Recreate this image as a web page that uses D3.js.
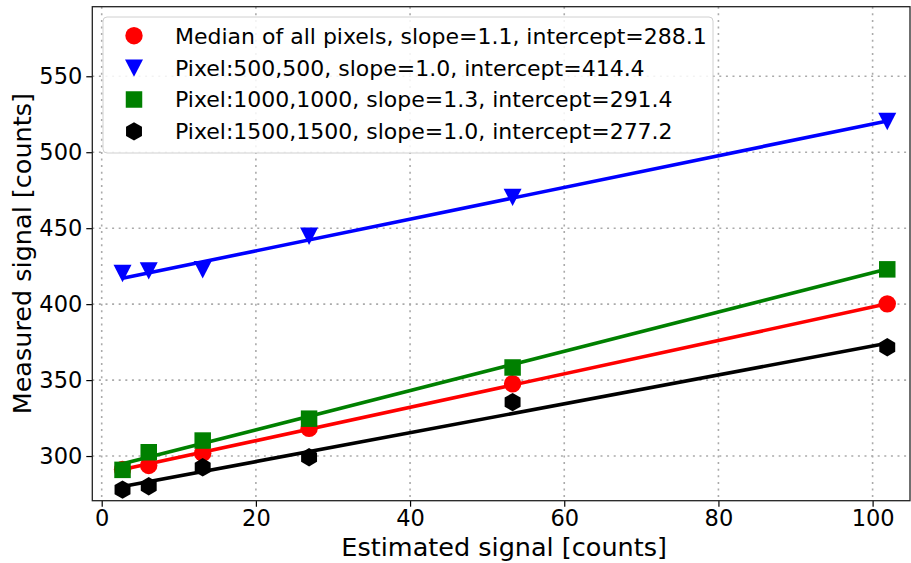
<!DOCTYPE html>
<html>
<head>
<meta charset="utf-8">
<script src="https://cdn.jsdelivr.net/npm/d3@7"></script>
<style>
  body { margin: 0; background: #fff; }
  text { font-family: "DejaVu Sans", sans-serif; fill: #000; }
  .tick line { stroke: #000; stroke-width: 1.2; }
  .tick text { font-size: 22.5px; }
  .domain { display: none; }
  .grid line { stroke: #aaa; stroke-width: 1.6; stroke-dasharray: 2 4.6; }
</style>
</head>
<body>
<div id="chart"></div>
<script>
// chart data
const estSignal = [2.7, 6.1, 13.1, 26.9, 53.3, 101.9];
const medianVals = [291.2, 293.8, 301.9, 318.2, 347.6, 400.2];
const px500Vals = [420.5, 422.2, 423.0, 445.0, 470.6, 520.6];
const px1000Vals = [290.9, 302.5, 310.2, 324.6, 358.3, 422.9];
const px1500Vals = [277.9, 280.1, 292.6, 299.2, 335.5, 371.6];

// fitted lines, value at first and last x
const medianFit = [291.1, 400.2];
const px500Fit = [417.0, 520.6];
const px1000Fit = [294.9, 423.2];
const px1500Fit = [279.9, 374.2];

const legendLabels = [
  'Median of all pixels, slope=1.1, intercept=288.1',
  'Pixel:500,500, slope=1.0, intercept=414.4',
  'Pixel:1000,1000, slope=1.3, intercept=291.4',
  'Pixel:1500,1500, slope=1.0, intercept=277.2'
];
const xTicks = [0, 20, 40, 60, 80, 100];
const yTicks = [300, 350, 400, 450, 500, 550];

const xLabel = 'Estimated signal [counts]';
const yLabel = 'Measured signal [counts]';

// static params
const width = 911, height = 563;
const margin = {top: 6.7, right: 1, bottom: 62.3, left: 92.3};
const innerW = width - margin.left - margin.right,
      innerH = height - margin.top - margin.bottom;

const series = [
  {vals: medianVals, fit: medianFit, color: 'red', shape: 'circle'},
  {vals: px500Vals, fit: px500Fit, color: 'blue', shape: 'triangle'},
  {vals: px1000Vals, fit: px1000Fit, color: 'green', shape: 'square'},
  {vals: px1500Vals, fit: px1500Fit, color: 'black', shape: 'hexagon'}
];
series.forEach((s, i) => s.label = legendLabels[i]);

// scales
const xScale = d3.scaleLinear().domain([-1.22, 104.85]).range([0, innerW]);
const yScale = d3.scaleLinear().domain([270.6, 595.8]).range([innerH, 0]);

const svg = d3.select('#chart').append('svg')
    .attr('width', width)
    .attr('height', height)
  .append('g')
    .attr('transform', `translate(${margin.left},${margin.top})`);

// grids
svg.append('g').attr('class', 'grid')
  .selectAll('line').data(xTicks).join('line')
    .attr('x1', d => xScale(d)).attr('x2', d => xScale(d))
    .attr('y1', 0).attr('y2', innerH);
svg.append('g').attr('class', 'grid')
  .selectAll('line').data(yTicks).join('line')
    .attr('y1', d => yScale(d)).attr('y2', d => yScale(d))
    .attr('x1', 0).attr('x2', innerW);

// marker path generator
function markerPath(shape) {
  if (shape === 'circle') return d3.symbol(d3.symbolCircle, Math.PI * 8.7 * 8.7)();
  if (shape === 'square') return d3.symbol(d3.symbolSquare, 16.5 * 16.5)();
  if (shape === 'triangle') {
    const w = 9, h = 8.2;
    return `M${-w},${-h}L${w},${-h}L0,${h + 1}Z`;
  }
  // hexagon, pointy top
  const r = 9.2;
  const pts = d3.range(6).map(k => {
    const a = Math.PI / 2 + k * Math.PI / 3;
    return [r * Math.cos(a), -r * Math.sin(a)];
  });
  return 'M' + pts.map(p => p.join(',')).join('L') + 'Z';
}

// series: points then fit line
const lineGen = d3.line().x(d => xScale(d[0])).y(d => yScale(d[1]));
series.forEach(s => {
  svg.append('g').selectAll('path').data(s.vals).join('path')
    .attr('d', markerPath(s.shape))
    .attr('fill', s.color)
    .attr('transform', (d, i) => `translate(${xScale(estSignal[i])},${yScale(d)})`);
  const ends = [[estSignal[0], s.fit[0]], [estSignal[estSignal.length - 1], s.fit[1]]];
  svg.append('path')
    .attr('d', lineGen(ends))
    .attr('fill', 'none')
    .attr('stroke', s.color)
    .attr('stroke-width', 3.6);
});

// axes
svg.append('g')
    .attr('transform', `translate(0,${innerH})`)
    .call(d3.axisBottom(xScale).tickValues(xTicks).tickSize(6).tickPadding(3));
svg.append('g')
    .call(d3.axisLeft(yScale).tickValues(yTicks).tickSize(6).tickPadding(4));

// frame
svg.append('rect')
  .attr('width', innerW).attr('height', innerH)
  .attr('fill', 'none').attr('stroke', '#222').attr('stroke-width', 1.3);

// legend
const legend = svg.append('g').attr('transform', `translate(${103 - margin.left},${17 - margin.top})`);
legend.append('rect')
  .attr('width', 610).attr('height', 136).attr('rx', 4)
  .attr('fill', 'white').attr('fill-opacity', 0.85)
  .attr('stroke', '#d0d0d0').attr('stroke-width', 1);
series.forEach((s, i) => {
  const cy = 18.7 + i * 31.9;
  legend.append('path')
    .attr('d', markerPath(s.shape))
    .attr('fill', s.color)
    .attr('transform', `translate(31,${cy})`);
  legend.append('text')
    .attr('x', 72).attr('y', cy)
    .attr('dy', '0.36em')
    .style('font-size', '22px')
    .text(s.label);
});

// axis labels
svg.append('text')
  .attr('text-anchor', 'middle')
  .attr('transform', `translate(${innerW / 2 + 3},${556 - margin.top})`)
  .style('font-size', '25.5px')
  .text(xLabel);
svg.append('text')
  .attr('text-anchor', 'middle')
  .attr('transform', `translate(${31 - margin.left},${innerH / 2}) rotate(-90)`)
  .style('font-size', '25.5px')
  .text(yLabel);
</script>
</body>
</html>
